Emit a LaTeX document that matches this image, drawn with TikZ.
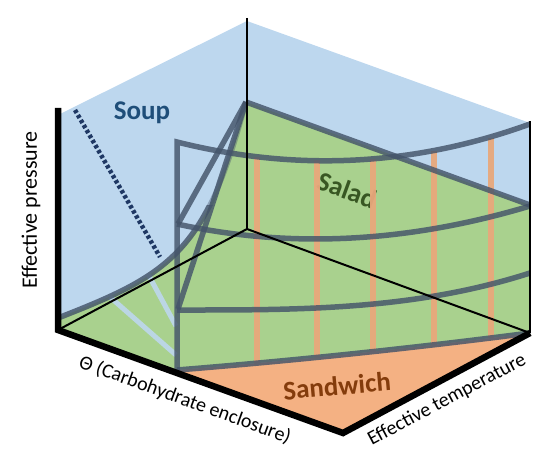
\documentclass[tikz,border=0pt]{standalone}
\usepackage{fontspec}
\setmainfont{Carlito}
\definecolor{soupC}{HTML}{BDD7EE}
\definecolor{saladC}{HTML}{A9D18E}
\definecolor{sandC}{HTML}{F4B183}
\definecolor{frameC}{HTML}{44546A}
\definecolor{soupT}{HTML}{1F4E79}
\definecolor{saladT}{HTML}{385723}
\definecolor{sandT}{HTML}{843C0C}
\definecolor{dotC}{HTML}{1F3864}
\begin{document}
\begin{tikzpicture}[x=1pt,y=-1pt,
  framebar/.style={draw=frameC, opacity=0.82, line width=5.5pt, line join=miter},
  framelight/.style={draw=frameC, opacity=0.4, line width=5pt},
  orangebar/.style={draw=sandC!95!black, opacity=0.95, line width=5.5pt},
  bluebar/.style={draw=soupC, opacity=0.9, line width=5pt},
  thinaxis/.style={draw=black, line width=2pt},
  thickaxis/.style={draw=black, line width=6.5pt, line join=miter},
  axislabel/.style={font=\fontsize{20}{22}\selectfont, text=black, inner sep=0pt},
  phaselabel/.style={font=\bfseries\fontsize{27}{30}\selectfont, inner sep=0pt}]
\useasboundingbox (0,0) rectangle (560,460);
% corners
\coordinate (L0) at (58,330);
\coordinate (B0) at (247,229);
\coordinate (R0) at (530,333);
\coordinate (F0) at (343,433);
\coordinate (Btop) at (247,18);
\coordinate (Rtop) at (530,121);
\coordinate (Ltop) at (58,108);
\coordinate (P) at (246,102);
% back walls (soup)
\fill[soupC] (56,116) -- (247,21) -- (530,123) -- (530,333) -- (58,333) -- cycle;
% salad region
\fill[saladC] (58,318) .. controls (168,275) and (206,254) .. (P) -- (530,205) -- (R0)
  .. controls (412,348.3) and (294,360.6) .. (177,370) -- (L0) -- cycle;
% sandwich region
\fill[sandC] (177,370) -- (F0) -- (R0) .. controls (412,348.3) and (294,360.6) .. (177,370) -- cycle;
% salad label
\node[phaselabel, text=saladT, rotate=-20] (salad) at (347,190) {Salad};
% orange verticals
\draw[orangebar] (257,157) -- (257,365);
\draw[orangebar] (317,159.5) -- (317,358);
\draw[orangebar] (373,158.5) -- (373,352);
\draw[orangebar] (434,150.5) -- (434,345);
\draw[orangebar] (491,138) -- (491,338);
% light blue lines
\draw[bluebar] (110,297) -- (176,355);
\draw[bluebar] (148,274) -- (176,326);
% phase boundary on left wall
\begin{scope}
\clip (0,205) rectangle (560,460);
\draw[framebar] (58,318) .. controls (168,275) and (206,254) .. (P);
\end{scope}
\begin{scope}
\clip (0,0) rectangle (560,205);
\draw[framelight] (58,318) .. controls (168,275) and (206,254) .. (P);
\end{scope}
% frame of salad surface
\draw[framebar] (177,372) -- (177,142) .. controls (294,171.3) and (411,167.1) .. (530,124);
\draw[framebar] (177,224) .. controls (294,249.7) and (412,241.4) .. (530,206);
\draw[framebar] (177,310) .. controls (294,310) and (412,311) .. (530,273);
\draw[framebar] (177,370) .. controls (294,360.6) and (412,348.3) .. (530,333);
\draw[framebar] (P) -- (530,205);
\draw[framebar] (P) -- (178,224);
\draw[framebar] (P) -- (178,309);
% dotted line
\draw[dotC, line width=4.5pt, dash pattern=on 3.4pt off 2.4pt] (75,110) -- (160,257);
% thin axes
\draw[thinaxis] (Btop) -- (B0);
\draw[thinaxis] (L0) -- (B0) -- (R0);
\draw[thinaxis] (Rtop) -- (R0);
% thick axes
\draw[thickaxis] (Ltop) -- (L0) -- (F0) -- (R0);
% labels
\node[phaselabel, text=soupT] (soup) at (142,113) {Soup};
\node[phaselabel, text=sandT, rotate=5] (sandwich) at (337,386) {Sandwich};
\node[axislabel, font=\fontsize{22}{24}\selectfont, rotate=90] (pressure) at (31,210) {Effective pressure};
\node[axislabel, rotate=-20] (theta) at (185,400) {Θ (Carbohydrate enclosure)};
\node[axislabel, rotate=28] (temp) at (447,400) {Effective temperature};
\end{tikzpicture}
\end{document}
